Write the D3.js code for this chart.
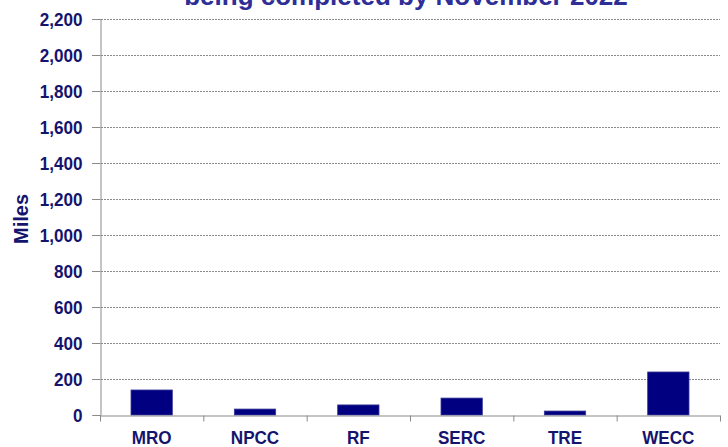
<!DOCTYPE html>
<html>
<head>
<meta charset="utf-8">
<script src="https://cdn.jsdelivr.net/npm/d3@7"></script>
<style>
  body { margin: 0; background: #fff; }
  svg text { font-family: "Liberation Sans", Arial, sans-serif; font-weight: bold; fill: #14146e; }
</style>
</head>
<body>
<div id="chart"></div>
<script>
// regions and miles
const regions = ['MRO', 'NPCC', 'RF', 'SERC', 'TRE', 'WECC'];
const miles = [139, 33, 56, 94, 22, 239];
const yTicks = [0, 200, 400, 600, 800, 1000, 1200, 1400, 1600, 1800, 2000, 2200];
const title = 'being completed by November 2022';

const width = 728, height = 447;
const margin = { top: 19, right: 8, bottom: 32, left: 100 };
const squeeze = 0.9; // labels look horizontally condensed

const svg = d3.select('#chart')
    .append('svg')
    .attr('width', width)
    .attr('height', height);

const x = d3.scaleBand()
    .domain(regions)
    .range([margin.left, width - margin.right])
    .padding(0);

const y = d3.scaleLinear()
    .domain([0, 2200])
    .range([height - margin.bottom, margin.top]);

// gridlines
svg.append('g')
    .selectAll('line')
    .data(yTicks.filter(d => d > 0))
    .enter()
    .append('line')
    .attr('x1', margin.left - 8)
    .attr('x2', width - margin.right)
    .attr('y1', d => y(d) + 0.5)
    .attr('y2', d => y(d) + 0.5)
    .attr('stroke', '#8a8a8a')
    .attr('stroke-dasharray', '2,1')
    .attr('stroke-width', 1);

// y axis
const yAxis = svg.append('g')
    .attr('transform', `translate(${margin.left + 0.5},0)`)
    .call(d3.axisLeft(y).tickValues(yTicks).tickSize(8).tickPadding(8).tickFormat(d3.format(',')));
yAxis.select('.domain').attr('stroke', '#8a8a8a');
yAxis.selectAll('.tick line').attr('stroke', '#8a8a8a');
yAxis.selectAll('.tick text')
    .style('font-size', '19px')
    .attr('dy', '0.36em')
    .attr('x', -18 / squeeze)
    .attr('transform', `scale(${squeeze},1)`);

// bars
svg.append('g')
    .selectAll('rect')
    .data(miles)
    .enter()
    .append('rect')
    .attr('x', (d, i) => x(regions[i]) + x.bandwidth() * 0.3)
    .attr('width', x.bandwidth() * 0.4)
    .attr('y', d => y(d))
    .attr('height', d => y(0) - y(d))
    .attr('fill', '#000080')
    .attr('stroke', '#3a3a9a')
    .attr('stroke-width', 0.8);

// x axis
const xAxis = svg.append('g')
    .attr('transform', `translate(0,${y(0) + 0.5})`)
    .call(d3.axisBottom(x).tickSize(0).tickPadding(15));
xAxis.select('.domain').attr('stroke', '#8a8a8a');
xAxis.selectAll('.tick text').style('font-size', '19px')
    .attr('transform', `scale(${squeeze},1)`);
xAxis.append('g')
    .selectAll('line')
    .data(regions.concat(['end']))
    .enter()
    .append('line')
    .attr('x1', (d, i) => margin.left + i * x.step() + 0.5)
    .attr('x2', (d, i) => margin.left + i * x.step() + 0.5)
    .attr('y1', 0)
    .attr('y2', 6)
    .attr('stroke', '#8a8a8a');

// y label
svg.append('text')
    .attr('transform', `translate(28,219) rotate(-90)`)
    .attr('text-anchor', 'middle')
    .style('font-size', '20px')
    .text('Miles');

// title (cut off at the top, as in the source)
svg.append('text')
    .attr('x', 406)
    .attr('y', 5)
    .attr('text-anchor', 'middle')
    .style('font-size', '26px')
    .style('fill', '#2e2e96')
    .text(title);
</script>
</body>
</html>
